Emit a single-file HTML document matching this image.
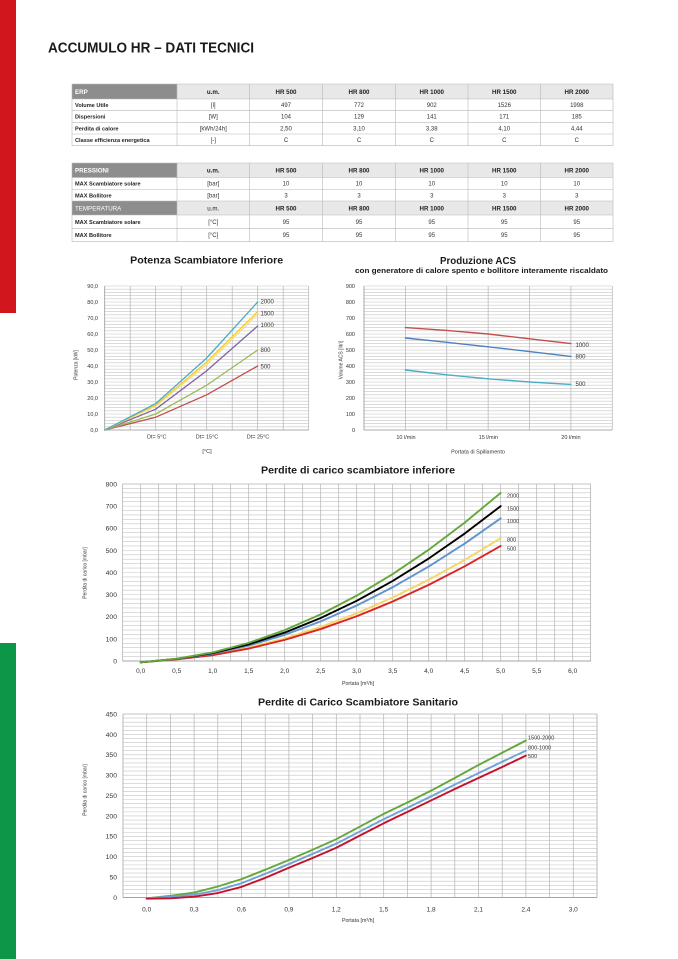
<!DOCTYPE html>
<html>
<head>
<meta charset="utf-8">
<style>
html,body{margin:0;padding:0;background:#fff;}
body{width:678px;height:959px;overflow:hidden;}
svg{display:block;font-family:"Liberation Sans",sans-serif;}
.ln{fill:none;vector-effect:non-scaling-stroke;stroke-linejoin:round;stroke-linecap:round;}
</style>
</head>
<body>
<svg width="678" height="959" viewBox="0 0 678 959" xmlns="http://www.w3.org/2000/svg">
<!-- side bars -->
<rect x="0" y="0" width="16" height="313" fill="#d2161e"/>
<rect x="0" y="643" width="16" height="316" fill="#0d9648"/>

<!-- Title -->
<text x="48" y="52.3" font-size="14.5" font-weight="bold" fill="#1a1a1a" textLength="206" lengthAdjust="spacingAndGlyphs">ACCUMULO HR – DATI TECNICI</text>

<!-- ============ TABLE 1 ============ -->
<rect x="72" y="84" width="105" height="15" fill="#8d8d8d"/>
<rect x="177" y="84" width="436" height="15" fill="#e8e8e8"/>
<g stroke="#b8b8b8" stroke-width="0.6" fill="none">
<path d="M72 84H613M72 99H613M72 110.7H613M72 122.3H613M72 134H613M72 145.7H613"/>
<path d="M72 84V145.7M177 84V145.7M249.5 84V145.7M322.5 84V145.7M395.5 84V145.7M468 84V145.7M540.5 84V145.7M613 84V145.7"/>
</g>
<g font-size="6.2" font-weight="bold" fill="#222" text-anchor="middle">
<text x="75" y="93.8" fill="#fff" text-anchor="start">ERP</text>
<text x="213.25" y="93.8">u.m.</text>
<text x="286" y="93.8">HR 500</text>
<text x="359" y="93.8">HR 800</text>
<text x="431.75" y="93.8">HR 1000</text>
<text x="504.25" y="93.8">HR 1500</text>
<text x="576.75" y="93.8">HR 2000</text>
</g>
<g font-size="5.6" font-weight="bold" fill="#222">
<text x="75" y="107">Volume Utile</text>
<text x="75" y="118.6">Dispersioni</text>
<text x="75" y="130.3">Perdita di calore</text>
<text x="75" y="142">Classe efficienza energetica</text>
</g>
<g font-size="6" fill="#333" text-anchor="middle">
<text x="213.25" y="107">[l]</text><text x="286" y="107">497</text><text x="359" y="107">772</text><text x="431.75" y="107">902</text><text x="504.25" y="107">1526</text><text x="576.75" y="107">1998</text>
<text x="213.25" y="118.6">[W]</text><text x="286" y="118.6">104</text><text x="359" y="118.6">129</text><text x="431.75" y="118.6">141</text><text x="504.25" y="118.6">171</text><text x="576.75" y="118.6">185</text>
<text x="213.25" y="130.3">[kWh/24h]</text><text x="286" y="130.3">2,50</text><text x="359" y="130.3">3,10</text><text x="431.75" y="130.3">3,38</text><text x="504.25" y="130.3">4,10</text><text x="576.75" y="130.3">4,44</text>
<text x="213.25" y="142">[-]</text><text x="286" y="142">C</text><text x="359" y="142">C</text><text x="431.75" y="142">C</text><text x="504.25" y="142">C</text><text x="576.75" y="142">C</text>
</g>

<!-- ============ TABLE 2 ============ -->
<rect x="72" y="163" width="105" height="14.5" fill="#8d8d8d"/>
<rect x="177" y="163" width="436" height="14.5" fill="#e8e8e8"/>
<rect x="72" y="201" width="105" height="14" fill="#8d8d8d"/>
<rect x="177" y="201" width="436" height="14" fill="#e8e8e8"/>
<g stroke="#b8b8b8" stroke-width="0.6" fill="none">
<path d="M72 163H613M72 177.5H613M72 189.5H613M72 201H613M72 215H613M72 228.3H613M72 241.6H613"/>
<path d="M72 163V241.6M177 163V241.6M249.5 163V241.6M322.5 163V241.6M395.5 163V241.6M468 163V241.6M540.5 163V241.6M613 163V241.6"/>
</g>
<g font-size="6.2" font-weight="bold" fill="#222" text-anchor="middle">
<text x="75" y="172.6" fill="#fff" text-anchor="start">PRESSIONI</text>
<text x="213.25" y="172.6">u.m.</text>
<text x="286" y="172.6">HR 500</text>
<text x="359" y="172.6">HR 800</text>
<text x="431.75" y="172.6">HR 1000</text>
<text x="504.25" y="172.6">HR 1500</text>
<text x="576.75" y="172.6">HR 2000</text>
<text x="75" y="210.3" fill="#fff" text-anchor="start" font-weight="normal">TEMPERATURA</text>
<text x="213.25" y="210.3" font-weight="normal">u.m.</text>
<text x="286" y="210.3">HR 500</text>
<text x="359" y="210.3">HR 800</text>
<text x="431.75" y="210.3">HR 1000</text>
<text x="504.25" y="210.3">HR 1500</text>
<text x="576.75" y="210.3">HR 2000</text>
</g>
<g font-size="5.6" font-weight="bold" fill="#222">
<text x="75" y="185.7">MAX Scambiatore solare</text>
<text x="75" y="197.4">MAX Bollitore</text>
<text x="75" y="223.9">MAX Scambiatore solare</text>
<text x="75" y="237.2">MAX Bollitore</text>
</g>
<g font-size="6" fill="#333" text-anchor="middle">
<text x="213.25" y="185.7">[bar]</text><text x="286" y="185.7">10</text><text x="359" y="185.7">10</text><text x="431.75" y="185.7">10</text><text x="504.25" y="185.7">10</text><text x="576.75" y="185.7">10</text>
<text x="213.25" y="197.4">[bar]</text><text x="286" y="197.4">3</text><text x="359" y="197.4">3</text><text x="431.75" y="197.4">3</text><text x="504.25" y="197.4">3</text><text x="576.75" y="197.4">3</text>
<text x="213.25" y="223.9">[°C]</text><text x="286" y="223.9">95</text><text x="359" y="223.9">95</text><text x="431.75" y="223.9">95</text><text x="504.25" y="223.9">95</text><text x="576.75" y="223.9">95</text>
<text x="213.25" y="237.2">[°C]</text><text x="286" y="237.2">95</text><text x="359" y="237.2">95</text><text x="431.75" y="237.2">95</text><text x="504.25" y="237.2">95</text><text x="576.75" y="237.2">95</text>
</g>

<!-- ============ CHART 1: Potenza Scambiatore Inferiore ============ -->
<text x="206.7" y="263.6" font-size="10" font-weight="bold" fill="#1a1a1a" text-anchor="middle" textLength="153" lengthAdjust="spacingAndGlyphs">Potenza Scambiatore Inferiore</text>
<line x1="206.7" y1="430.3" x2="206.7" y2="285.6" stroke="#c6c6c6" stroke-width="204" stroke-dasharray="0.6 2.6"/>
<line x1="104.35" y1="358" x2="309.2" y2="358" stroke="#b3b3b3" stroke-width="144" stroke-dasharray="0.7 24.8"/>
<path d="M104.7 286V430H308.7" stroke="#9a9a9a" stroke-width="0.7" fill="none"/>
<g transform="translate(0 430) scale(1 -1.6)" stroke-width="1.3">
<polyline class="ln" stroke="#c0504d" points="104.7,0 155.7,8 206.7,22 257.7,40"/>
<polyline class="ln" stroke="#9bbb59" points="104.7,0 155.7,10 206.7,28 257.7,50"/>
<polyline class="ln" stroke="#8064a2" points="104.7,0 155.7,13 206.7,37 257.7,65"/>
<polyline class="ln" stroke="#f7dc8a" points="104.7,0 155.7,15 206.7,41 257.7,72.5"/>
<polyline class="ln" stroke="#f3cf2e" points="104.7,0 155.7,15.5 206.7,42.5 257.7,74"/>
<polyline class="ln" stroke="#4bacc6" points="104.7,0 155.7,16.5 206.7,45 257.7,80"/>
</g>
<g font-size="5.5" fill="#333" text-anchor="end">
<text x="98" y="432">0,0</text><text x="98" y="416">10,0</text><text x="98" y="400">20,0</text><text x="98" y="384">30,0</text><text x="98" y="368">40,0</text><text x="98" y="352">50,0</text><text x="98" y="336">60,0</text><text x="98" y="320">70,0</text><text x="98" y="304">80,0</text><text x="98" y="288">90,0</text>
</g>
<g font-size="5.5" fill="#333" text-anchor="middle">
<text x="156.7" y="438.5">Dt= 5°C</text><text x="207" y="438.5">Dt= 15°C</text><text x="258" y="438.5">Dt= 25°C</text>
<text x="207" y="453">[°C]</text>
</g>
<text transform="translate(77.5 365) rotate(-90)" font-size="5" fill="#333" text-anchor="middle">Potenza [kW]</text>
<g font-size="6" fill="#333">
<text x="260.5" y="303.7">2000</text><text x="260.5" y="315.3">1500</text><text x="260.5" y="327">1000</text><text x="260.5" y="352">800</text><text x="260.5" y="368.7">500</text>
</g>

<!-- ============ CHART 2: Produzione ACS ============ -->
<text x="478" y="264" font-size="10" font-weight="bold" fill="#1a1a1a" text-anchor="middle" textLength="76" lengthAdjust="spacingAndGlyphs">Produzione ACS</text>
<text x="481.5" y="273" font-size="7" font-weight="bold" fill="#1a1a1a" text-anchor="middle" textLength="253" lengthAdjust="spacingAndGlyphs">con generatore di calore spento e bollitore interamente riscaldato</text>
<line x1="488.15" y1="430.3" x2="488.15" y2="285.6" stroke="#c6c6c6" stroke-width="248.3" stroke-dasharray="0.6 2.6"/>
<line x1="363.65" y1="358" x2="612.8" y2="358" stroke="#b3b3b3" stroke-width="144" stroke-dasharray="0.7 40.68"/>
<path d="M364 286V430H612.3" stroke="#9a9a9a" stroke-width="0.7" fill="none"/>
<g transform="translate(0 430) scale(1 -0.16)" stroke-width="1.4">
<polyline class="ln" stroke="#c0504d" points="405.4,640 446.8,622 488.1,600 529.5,570 570.9,540"/>
<polyline class="ln" stroke="#4f81bd" points="405.4,575 446.8,548 488.1,520 529.5,490 570.9,460"/>
<polyline class="ln" stroke="#4bacc6" points="405.4,375 446.8,345 488.1,320 529.5,300 570.9,285"/>
</g>
<g font-size="5.5" fill="#333" text-anchor="end">
<text x="355" y="432">0</text><text x="355" y="416">100</text><text x="355" y="400">200</text><text x="355" y="384">300</text><text x="355" y="368">400</text><text x="355" y="352">500</text><text x="355" y="336">600</text><text x="355" y="320">700</text><text x="355" y="304">800</text><text x="355" y="288">900</text>
</g>
<g font-size="5.5" fill="#333" text-anchor="middle">
<text x="406" y="439">10 l/min</text><text x="488.3" y="439">15 l/min</text><text x="570.9" y="439">20 l/min</text>
<text x="478" y="453.5">Portata di Spillamento</text>
</g>
<text transform="translate(342.5 360) rotate(-90)" font-size="5" fill="#333" text-anchor="middle">Volume ACS [litri]</text>
<g font-size="6" fill="#333">
<text x="575.5" y="347">1000</text><text x="575.5" y="358.7">800</text><text x="575.5" y="386">500</text>
</g>

<!-- ============ CHART 3: Perdite di carico scambiatore inferiore ============ -->
<text x="358" y="473.7" font-size="10.5" font-weight="bold" fill="#1a1a1a" text-anchor="middle" textLength="194" lengthAdjust="spacingAndGlyphs">Perdite di carico scambiatore inferiore</text>
<line x1="356.7" y1="661.3" x2="356.7" y2="483.6" stroke="#c6c6c6" stroke-width="468" stroke-dasharray="0.6 3.825"/>
<line x1="122.35" y1="572.5" x2="591.2" y2="572.5" stroke="#b3b3b3" stroke-width="177" stroke-dasharray="0.7 17.3"/>
<rect x="122.7" y="484" width="468" height="177" fill="none" stroke="#b0b0b0" stroke-width="0.6"/>
<path d="M122.7 661H590.7" stroke="#9a9a9a" stroke-width="0.7"/>
<g transform="translate(140.7 661) scale(72 -0.22125)" stroke-width="1.9">
<polyline class="ln" stroke="#f5d565" points="0,-6 0.5,7.8 1,28.3 1.5,59.8 2,101.9 2.5,154 3,215.7 3.5,286.9 4,367.3 4.5,456.8 5,555"/>
<polyline class="ln" stroke="#dc2424" points="0,-6 0.5,7.4 1,26.5 1.5,56.1 2,95.5 2.5,144.3 3,202.1 3.5,268.8 4,344.1 4.5,428 5,520"/>
<polyline class="ln" stroke="#5e94d0" points="0,-6 0.5,9.1 1,32.8 1.5,69.5 2,118.4 2.5,178.9 3,250.7 3.5,333.4 4,426.8 4.5,530.8 5,645"/>
<polyline class="ln" stroke="#000000" points="0,-6 0.5,9.9 1,35.6 1.5,75.4 2,128.5 2.5,194.2 3,272 3.5,361.8 4,463.2 4.5,576.1 5,700"/>
<polyline class="ln" stroke="#64a83c" points="0,-6 0.5,10.7 1,38.7 1.5,81.9 2,139.5 2.5,210.8 3,295.4 3.5,392.8 4,503 4.5,625.5 5,760"/>
</g>
<g font-size="6.8" fill="#333" text-anchor="end">
<text x="117" y="663.4">0</text><text x="117" y="641.3">100</text><text x="117" y="619.2">200</text><text x="117" y="597">300</text><text x="117" y="574.9">400</text><text x="117" y="552.8">500</text><text x="117" y="530.7">600</text><text x="117" y="508.5">700</text><text x="117" y="486.4">800</text>
</g>
<g font-size="6.5" fill="#333" text-anchor="middle">
<text x="140.7" y="673">0,0</text><text x="176.7" y="673">0,5</text><text x="212.7" y="673">1,0</text><text x="248.7" y="673">1,5</text><text x="284.7" y="673">2,0</text><text x="320.7" y="673">2,5</text><text x="356.7" y="673">3,0</text><text x="392.7" y="673">3,5</text><text x="428.7" y="673">4,0</text><text x="464.7" y="673">4,5</text><text x="500.7" y="673">5,0</text><text x="536.7" y="673">5,5</text><text x="572.7" y="673">6,0</text>
</g>
<text x="358" y="685" font-size="5.3" fill="#333" text-anchor="middle">Portata [m³/h]</text>
<text transform="translate(86.5 573) rotate(-90)" font-size="5" fill="#333" text-anchor="middle">Perdita di carico [mbar]</text>
<g font-size="5.5" fill="#333">
<text x="507" y="497.5">2000</text><text x="507" y="510.5">1500</text><text x="507" y="523">1000</text><text x="507" y="541.5">800</text><text x="507" y="550.5">500</text>
</g>

<!-- ============ CHART 4: Perdite di Carico Scambiatore Sanitario ============ -->
<text x="358" y="705.5" font-size="10.5" font-weight="bold" fill="#1a1a1a" text-anchor="middle" textLength="200" lengthAdjust="spacingAndGlyphs">Perdite di Carico Scambiatore Sanitario</text>
<line x1="360" y1="897.8" x2="360" y2="713.6" stroke="#c6c6c6" stroke-width="474" stroke-dasharray="0.6 3.4778"/>
<line x1="122.65" y1="805.75" x2="597.5" y2="805.75" stroke="#b3b3b3" stroke-width="183.5" stroke-dasharray="0.7 23"/>
<rect x="123" y="714" width="474" height="183.5" fill="none" stroke="#b0b0b0" stroke-width="0.6"/>
<path d="M123 897.5H597" stroke="#9a9a9a" stroke-width="0.7"/>
<g transform="translate(146.7 897.5) scale(158 -0.40778)" stroke-width="1.9">
<polyline class="ln" stroke="#64a83c" points="0,-2 0.15,4 0.3,12 0.45,27 0.6,45 0.75,68 0.9,92 1.05,117 1.2,143 1.35,174 1.5,205 1.65,233 1.8,262 1.95,293 2.1,325 2.25,355 2.4,385"/>
<polyline class="ln" stroke="#6ea3d6" points="0,-2 0.15,2 0.3,7 0.45,18 0.6,35 0.75,58 0.9,82 1.05,107 1.2,132 1.35,162 1.5,192 1.65,220 1.8,248 1.95,277 2.1,305 2.25,333 2.4,360"/>
<polyline class="ln" stroke="#c4122e" points="0,-3 0.15,-2 0.3,2 0.45,11 0.6,26 0.75,48 0.9,73 1.05,97 1.2,122 1.35,152 1.5,182 1.65,210 1.8,238 1.95,266 2.1,293 2.25,320 2.4,348"/>
</g>
<g font-size="6.8" fill="#333" text-anchor="end">
<text x="117" y="899.9">0</text><text x="117" y="879.5">50</text><text x="117" y="859.1">100</text><text x="117" y="838.7">150</text><text x="117" y="818.3">200</text><text x="117" y="797.9">250</text><text x="117" y="777.5">300</text><text x="117" y="757.2">350</text><text x="117" y="736.8">400</text><text x="117" y="716.4">450</text>
</g>
<g font-size="6.5" fill="#333" text-anchor="middle">
<text x="146.7" y="911.5">0,0</text><text x="194.1" y="911.5">0,3</text><text x="241.5" y="911.5">0,6</text><text x="288.9" y="911.5">0,9</text><text x="336.3" y="911.5">1,2</text><text x="383.7" y="911.5">1,5</text><text x="431.1" y="911.5">1,8</text><text x="478.5" y="911.5">2,1</text><text x="525.9" y="911.5">2,4</text><text x="573.3" y="911.5">3,0</text>
</g>
<text x="358" y="922" font-size="5.3" fill="#333" text-anchor="middle">Portata [m³/h]</text>
<text transform="translate(86.5 790) rotate(-90)" font-size="5" fill="#333" text-anchor="middle">Perdita di carico [mbar]</text>
<g font-size="5.5" fill="#333">
<text x="528" y="739.5">1500-2000</text><text x="528" y="749.5">800-1000</text><text x="528" y="758">500</text>
</g>
</svg>
</body>
</html>
